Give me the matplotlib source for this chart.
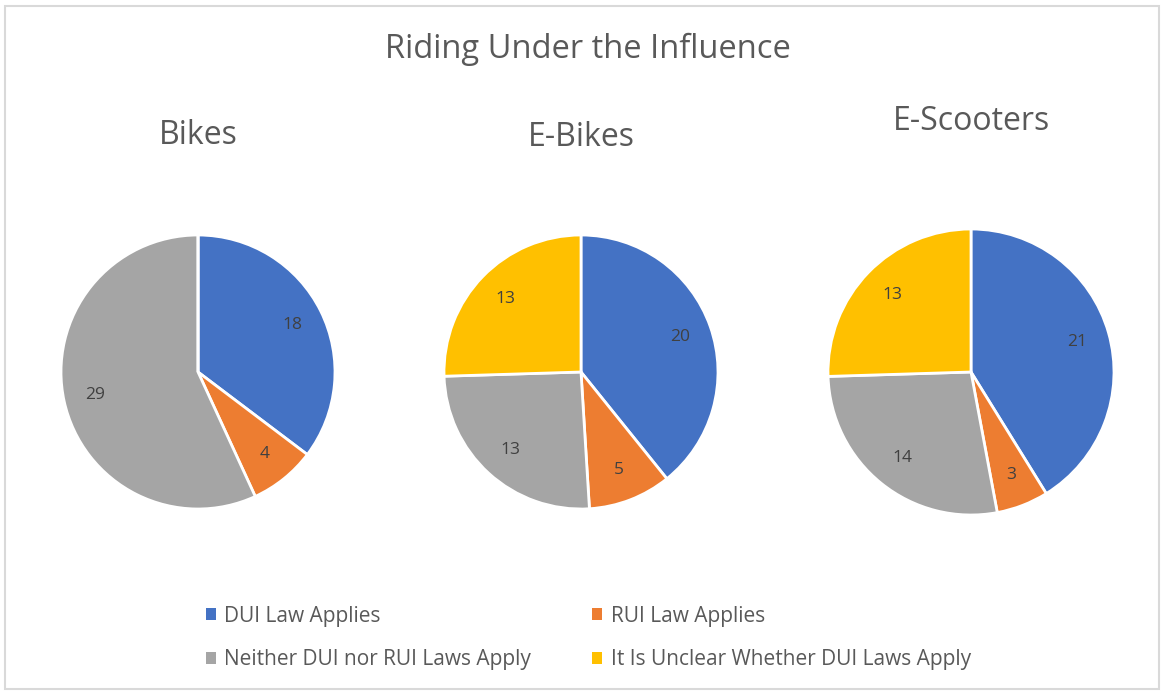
import matplotlib.pyplot as plt
from matplotlib.patches import Rectangle, Patch

categories = ["DUI Law Applies", "RUI Law Applies",
              "Neither DUI nor RUI Laws Apply", "It Is Unclear Whether DUI Laws Apply"]
colors = ["#4472C4", "#ED7D31", "#A5A5A5", "#FFC000"]

vehicles = ["Bikes", "E-Bikes", "E-Scooters"]
bikes = [18, 4, 29, 0]
ebikes = [20, 5, 13, 13]
escooters = [21, 3, 14, 13]
values = [bikes, ebikes, escooters]

W, H = 1162, 691
fig = plt.figure(figsize=(W / 100, H / 100), dpi=100)
plt.rcParams["font.family"] = ["Open Sans", "DejaVu Sans"]
txt = "#595959"

# outer light border
fig.patches.append(Rectangle((5 / W, 2 / H), 1154 / W, 683 / H, transform=fig.transFigure,
                             fill=False, edgecolor="#D9D9D9", linewidth=1.5))

fig.text(588 / W, 1 - 49 / H, "Riding Under the Influence", ha="center", va="center",
         fontsize=23.5, color=txt)

# pie centres and radii in pixels
centres = [(198, 372, 137), (581, 372, 137), (971, 372, 143)]
title_y = [136, 137, 121]

for name, vals, (cx, cy, r), ty in zip(vehicles, values, centres, title_y):
    ax = fig.add_axes([(cx - r) / W, 1 - (cy + r) / H, 2 * r / W, 2 * r / H])
    wedges, texts, autotexts = ax.pie(
        vals, colors=colors, startangle=90, counterclock=False, radius=1,
        autopct=lambda p, v=vals: "" if p == 0 else "%d" % round(p * sum(v) / 100),
        pctdistance=0.77, wedgeprops=dict(edgecolor="white", linewidth=2),
        textprops=dict(color="#404040", fontsize=12.5))
    ax.set_xlim(-1, 1)
    ax.set_ylim(-1, 1)
    ax.set_aspect("equal")
    fig.text(cx / W, 1 - ty / H, name, ha="center", va="center", fontsize=23, color=txt)

handles = [Patch(facecolor=c, edgecolor="none") for c in colors]
# order rows: DUI, RUI / Neither, Unclear
fig.legend([handles[0], handles[2], handles[1], handles[3]],
           [categories[0], categories[2], categories[1], categories[3]],
           ncol=2, loc="center left", bbox_to_anchor=(187 / W, 1 - 638 / H),
           frameon=False, fontsize=15, labelcolor=txt, handlelength=0.5, handleheight=0.5,
           handletextpad=0.4, columnspacing=2.9, labelspacing=1.1)

fig.savefig("out.png", dpi=100)
